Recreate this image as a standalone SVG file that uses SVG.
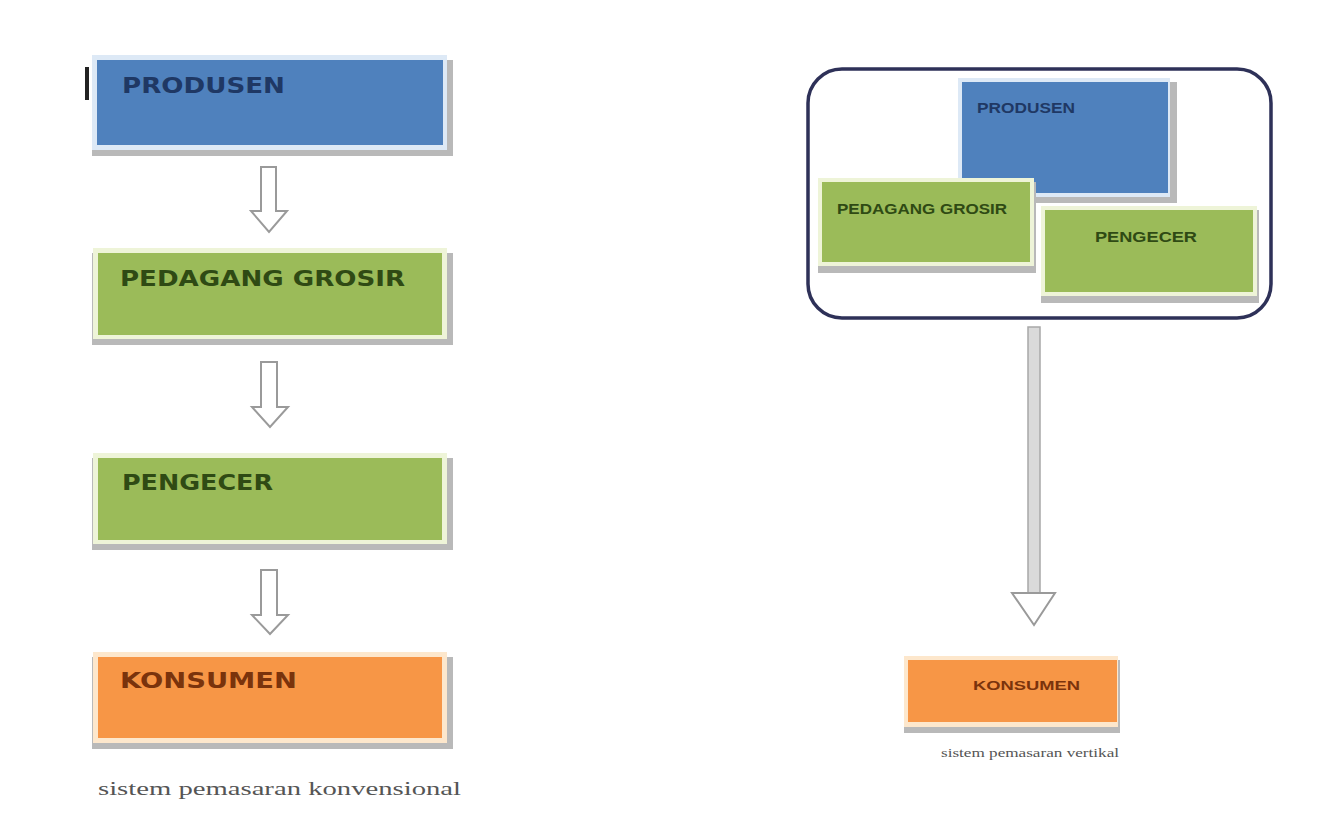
<svg xmlns="http://www.w3.org/2000/svg" width="1326" height="837" viewBox="0 0 1326 837">
  <style>
    .shadow { fill: #b9b9b9; }
    .halo-blue { fill: #dde9f6; }
    .halo-green { fill: #eef4d8; }
    .halo-orange { fill: #fde7cc; }
    .blue { fill: #4f81bd; }
    .green { fill: #9bbb59; }
    .orange { fill: #f79646; }
    .lbl { font-family: "DejaVu Sans", "Liberation Sans", sans-serif; font-weight: bold; }
    .lbl-s { font-family: "Liberation Sans", "DejaVu Sans", sans-serif; font-weight: bold; }
    .t-blue { fill: #1f3864; }
    .t-green { fill: #2f4a14; }
    .t-orange { fill: #7a330c; }
    .cap { font-family: "Liberation Serif", "DejaVu Serif", serif; fill: #555; }
    .arrow { fill: #ffffff; stroke: #9a9a9a; stroke-width: 2; stroke-linejoin: miter; }
    .shaft { fill: #dadada; stroke: #a8a8a8; stroke-width: 1.5; }
  </style>

  <rect width="1326" height="837" fill="#ffffff"/>

  <!-- conventional marketing system (left column) -->
  <rect x="85" y="67" width="4" height="33" fill="#222"/>

  <g id="produsen-left">
    <rect class="shadow" x="92" y="60" width="361" height="96"/>
    <rect class="halo-blue" x="92" y="55" width="355" height="95"/>
    <rect class="blue" x="97" y="60" width="346" height="85"/>
    <text class="lbl t-blue" x="122" y="93" font-size="21" textLength="163" lengthAdjust="spacingAndGlyphs">PRODUSEN</text>
  </g>

  <g id="grosir-left">
    <rect class="shadow" x="92" y="253" width="361" height="92"/>
    <rect class="halo-green" x="93" y="248" width="354" height="91"/>
    <rect class="green" x="98" y="253" width="344" height="82"/>
    <text class="lbl t-green" x="120" y="286" font-size="21" textLength="285" lengthAdjust="spacingAndGlyphs">PEDAGANG GROSIR</text>
  </g>

  <g id="pengecer-left">
    <rect class="shadow" x="92" y="458" width="361" height="92"/>
    <rect class="halo-green" x="93" y="453" width="354" height="91"/>
    <rect class="green" x="98" y="458" width="344" height="82"/>
    <text class="lbl t-green" x="122" y="490" font-size="21" textLength="151" lengthAdjust="spacingAndGlyphs">PENGECER</text>
  </g>

  <g id="konsumen-left">
    <rect class="shadow" x="92" y="657" width="361" height="92"/>
    <rect class="halo-orange" x="93" y="652" width="354" height="91"/>
    <rect class="orange" x="98" y="657" width="344" height="81"/>
    <text class="lbl t-orange" x="120" y="688" font-size="21" textLength="177" lengthAdjust="spacingAndGlyphs">KONSUMEN</text>
  </g>

  <text class="cap" x="98" y="795" font-size="18" textLength="363" lengthAdjust="spacingAndGlyphs">sistem pemasaran konvensional</text>

  <!-- vertical marketing system (right) -->
  <g id="sistem-vertikal">
    <rect x="808" y="69" width="463" height="249" rx="34" ry="34" fill="#ffffff" stroke="#2e3158" stroke-width="3.5"/>
  </g>

  <g id="produsen-right">
    <rect class="shadow" x="958" y="82" width="219" height="121"/>
    <rect class="halo-blue" x="958" y="78" width="212" height="119"/>
    <rect class="blue" x="962" y="82" width="206" height="111"/>
    <text class="lbl-s t-blue" x="977" y="113" font-size="15" textLength="98" lengthAdjust="spacingAndGlyphs">PRODUSEN</text>
  </g>

  <g id="grosir-right">
    <rect class="shadow" x="818" y="182" width="218" height="91"/>
    <rect class="halo-green" x="818" y="178" width="216" height="88"/>
    <rect class="green" x="822" y="182" width="208" height="80"/>
    <text class="lbl-s t-green" x="837" y="214" font-size="15" textLength="170" lengthAdjust="spacingAndGlyphs">PEDAGANG GROSIR</text>
  </g>

  <g id="pengecer-right">
    <rect class="shadow" x="1041" y="210" width="218" height="93"/>
    <rect class="halo-green" x="1041" y="206" width="216" height="90"/>
    <rect class="green" x="1045" y="210" width="208" height="82"/>
    <text class="lbl-s t-green" x="1095" y="242" font-size="15" textLength="102" lengthAdjust="spacingAndGlyphs">PENGECER</text>
  </g>

  <g id="konsumen-right">
    <rect class="shadow" x="904" y="660" width="216" height="73"/>
    <rect class="halo-orange" x="904" y="656" width="214" height="71"/>
    <rect class="orange" x="908" y="660" width="209" height="62"/>
    <text class="lbl-s t-orange" x="973" y="690" font-size="13" textLength="107" lengthAdjust="spacingAndGlyphs">KONSUMEN</text>
  </g>

  <text class="cap" x="941" y="757" font-size="12" textLength="178" lengthAdjust="spacingAndGlyphs">sistem pemasaran vertikal</text>

  <!-- block arrows -->
  <g id="connectors">
    <polygon class="arrow" points="261,167 276,167 276,211 287,211 269,232 251,211 261,211"/>
    <polygon class="arrow" points="261,362 277,362 277,407 288,407 270,427 252,407 261,407"/>
    <polygon class="arrow" points="261,570 277,570 277,615 288,615 270,634 252,615 261,615"/>
    <rect class="shaft" x="1028" y="327" width="12" height="266"/>
    <polygon class="arrow" points="1028,593 1012,593 1034,625 1055,593 1040,593"/>
  </g>
</svg>
